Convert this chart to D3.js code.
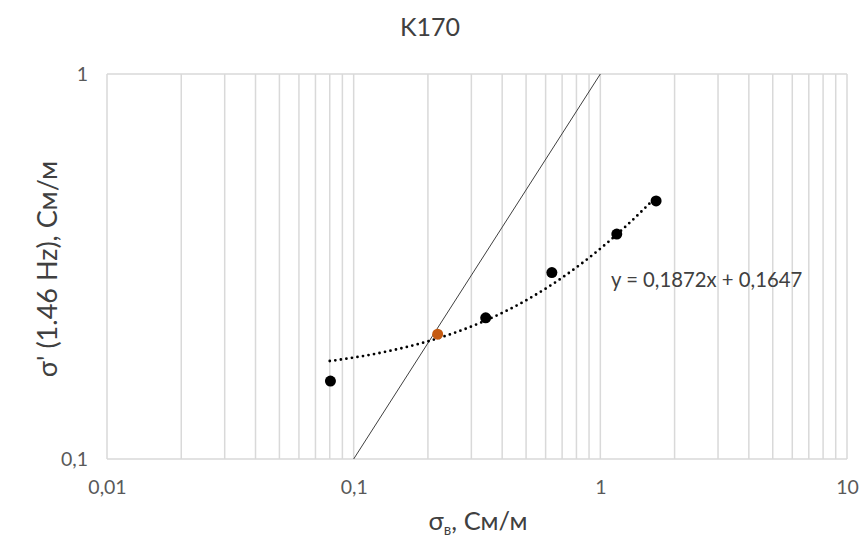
<!DOCTYPE html>
<html>
<head>
<meta charset="utf-8">
<script src="https://cdn.jsdelivr.net/npm/d3@7"></script>
<style>
  html, body { margin: 0; padding: 0; background: #fff; }
  svg { display: block; font-family: Lato, "Open Sans", sans-serif; }
</style>
</head>
<body>
<svg id="chart" width="862" height="543"></svg>
<script>
// Measured samples: background conductivity vs. effective conductivity at 1.46 Hz
const sigmaB = [0.0805, 0.343, 0.636, 1.166, 1.683];
const sigmaEff = [0.1594, 0.2326, 0.305, 0.384, 0.468];
// Highlighted crossing sample
const crossX = [0.219];
const crossY = [0.211];
// Linear trend y = a·x + b
const trendA = 0.1872;
const trendB = 0.1647;
const trendRange = [0.08, 1.683];
// Reference line y = x
const identityRange = [0.1, 1];
const xTickValues = [0.01, 0.1, 1, 10];
const xTickLabels = ["0,01", "0,1", "1", "10"];
const yTickValues = [0.1, 1];
const yTickLabels = ["0,1", "1"];

const svg = d3.select("#chart");
const plot = { left: 107, right: 847, top: 74, bottom: 459 };

const x = d3.scaleLog().domain([0.01, 10]).range([plot.left, plot.right]);
const y = d3.scaleLog().domain([0.1, 1]).range([plot.bottom, plot.top]);

// Vertical grid at every 1..9 step of each decade
const gridX = [];
for (let e = -2; e <= 0; e++) for (let m = 1; m <= 9; m++) gridX.push(m * Math.pow(10, e));
gridX.push(10);

const grid = svg.append("g").attr("stroke", "#d9d9d9").attr("stroke-width", 1.5);
grid.selectAll("line.v").data(gridX).join("line")
  .attr("class", "v")
  .attr("x1", d => x(d)).attr("x2", d => x(d))
  .attr("y1", plot.top).attr("y2", plot.bottom);
grid.selectAll("line.h").data(yTickValues).join("line")
  .attr("class", "h")
  .attr("x1", plot.left).attr("x2", plot.right)
  .attr("y1", d => y(d)).attr("y2", d => y(d));

// Axes (labels only; lines come from the grid)
const xAxis = d3.axisBottom(x).tickValues(xTickValues)
  .tickFormat((d, i) => xTickLabels[i]).tickSize(0).tickPadding(21);
svg.append("g").attr("transform", `translate(0,${plot.bottom})`).call(xAxis)
  .call(g => g.select(".domain").remove())
  .call(g => g.selectAll("text").attr("fill", "#595959").style("font-size", "19.5px").style("font-family", "Lato, sans-serif"));

const yAxis = d3.axisLeft(y).tickValues(yTickValues)
  .tickFormat((d, i) => yTickLabels[i]).tickSize(0).tickPadding(19);
svg.append("g").attr("transform", `translate(${plot.left},0)`).call(yAxis)
  .call(g => g.select(".domain").remove())
  .call(g => g.selectAll("text").attr("fill", "#595959").style("font-size", "19.5px").style("font-family", "Lato, sans-serif"));

// Identity line
svg.append("line")
  .attr("x1", x(identityRange[0])).attr("y1", y(identityRange[0]))
  .attr("x2", x(identityRange[1])).attr("y2", y(identityRange[1]))
  .attr("stroke", "#404040").attr("stroke-width", 1);

// Trend line (straight in linear space, curved on log axes)
const trendPts = d3.range(0, 201).map(i => {
  const xv = Math.exp(Math.log(trendRange[0]) + (Math.log(trendRange[1]) - Math.log(trendRange[0])) * i / 200);
  return [xv, trendA * xv + trendB];
});
svg.append("path")
  .attr("d", d3.line().x(d => x(d[0])).y(d => y(d[1]))(trendPts))
  .attr("fill", "none").attr("stroke", "#000")
  .attr("stroke-width", 2.8).attr("stroke-dasharray", "0 5.6")
  .attr("stroke-linecap", "round");

// Data points
svg.append("g").selectAll("circle").data(d3.zip(sigmaB, sigmaEff)).join("circle")
  .attr("cx", d => x(d[0])).attr("cy", d => y(d[1])).attr("r", 5.5)
  .attr("fill", "#000");
svg.append("g").selectAll("circle").data(d3.zip(crossX, crossY)).join("circle")
  .attr("cx", d => x(d[0])).attr("cy", d => y(d[1])).attr("r", 5.5)
  .attr("fill", "#c55a11");

// Trend equation
svg.append("text").attr("x", 611).attr("y", 287)
  .attr("fill", "#404040").style("font-size", "20.3px")
  .text(`y = ${String(trendA).replace(".", ",")}x + ${String(trendB).replace(".", ",")}`);

// Title
svg.append("text").attr("x", 430).attr("y", 36).attr("text-anchor", "middle")
  .attr("fill", "#404040").style("font-size", "25px").text("K170");

// Axis titles
const xt = svg.append("text").attr("x", 478).attr("y", 530).attr("text-anchor", "middle")
  .attr("fill", "#404040").style("font-size", "25.5px");
xt.append("tspan").text("σ");
xt.append("tspan").attr("dy", 5).style("font-size", "15px").text("в");
xt.append("tspan").attr("dy", -5).text(", См/м");

svg.append("text").attr("transform", "translate(57,269) rotate(-90)")
  .attr("text-anchor", "middle").attr("fill", "#404040").style("font-size", "27px")
  .text("σ' (1.46 Hz), См/м");
</script>
</body>
</html>
